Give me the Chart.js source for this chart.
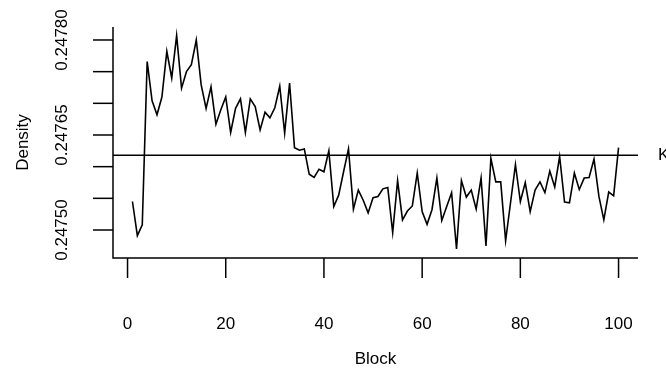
<!DOCTYPE html>
<html>
<head>
<meta charset="utf-8">
<script src="https://cdn.jsdelivr.net/npm/chart.js@4/dist/chart.umd.min.js"></script>
<style>
  html, body { margin: 0; padding: 0; background: #fff; }
  #wrap { width: 666px; height: 373px; }
</style>
</head>
<body>
<div id="wrap"><canvas id="densityChart" width="666" height="373"></canvas></div>
<script>
// Block index and estimated density per block
const blocks = [
  1, 2, 3, 4, 5, 6, 7, 8, 9, 10, 11, 12, 13, 14, 15, 16, 17, 18, 19, 20,
  21, 22, 23, 24, 25, 26, 27, 28, 29, 30, 31, 32, 33, 34, 35, 36, 37, 38, 39, 40,
  41, 42, 43, 44, 45, 46, 47, 48, 49, 50, 51, 52, 53, 54, 55, 56, 57, 58, 59, 60,
  61, 62, 63, 64, 65, 66, 67, 68, 69, 70, 71, 72, 73, 74, 75, 76, 77, 78, 79, 80,
  81, 82, 83, 84, 85, 86, 87, 88, 89, 90, 91, 92, 93, 94, 95, 96, 97, 98, 99, 100
];
const density = [
  0.247545, 0.247491, 0.247508, 0.247766, 0.247704, 0.247682, 0.247710, 0.247782, 0.247740, 0.247807,
  0.247724, 0.247750, 0.247761, 0.247800, 0.247729, 0.247692, 0.247726, 0.247667, 0.247690, 0.247710,
  0.247654, 0.247692, 0.247707, 0.247654, 0.247707, 0.247695, 0.247658, 0.247686, 0.247677, 0.247693,
  0.247727, 0.247653, 0.247732, 0.247630, 0.247626, 0.247628, 0.247588, 0.247583, 0.247596, 0.247592,
  0.247625, 0.247537, 0.247555, 0.247592, 0.247628, 0.247533, 0.247563, 0.247547, 0.247527, 0.247551,
  0.247553, 0.247565, 0.247567, 0.247496, 0.247578, 0.247516, 0.247530, 0.247538, 0.247590, 0.247529,
  0.247509, 0.247532, 0.247582, 0.247515, 0.247537, 0.247559, 0.247470, 0.247578, 0.247552, 0.247563,
  0.247533, 0.247582, 0.247475, 0.247613, 0.247576, 0.247576, 0.247483, 0.247543, 0.247603, 0.247545,
  0.247575, 0.247529, 0.247563, 0.247576, 0.247559, 0.247593, 0.247568, 0.247616, 0.247544, 0.247543,
  0.247590, 0.247564, 0.247582, 0.247583, 0.247612, 0.247553, 0.247516, 0.247560, 0.247554, 0.247630
];
// reference level K
const kLevel = 0.247618;
const kLabel = "K";

const xTicks = [0, 20, 40, 60, 80, 100];
const yTicks = [0.2475, 0.24755, 0.2476, 0.24765, 0.2477, 0.24775, 0.2478];
const yTickLabels = ["0.24750", "", "", "0.24765", "", "", "0.24780"];

const FONT = '17px "Liberation Sans", Arial, Helvetica, sans-serif';

// R-style axes: L-shaped frame, outward ticks, rotated y labels
const baseAxes = {
  id: "baseAxes",
  afterDraw(chart) {
    const { ctx, chartArea: a, scales } = chart;
    const xs = scales.x, ys = scales.y;
    ctx.save();
    ctx.strokeStyle = "#000";
    ctx.fillStyle = "#000";
    ctx.lineWidth = 1.5;
    ctx.lineCap = "butt";

    // frame
    ctx.beginPath();
    ctx.moveTo(a.left, a.top);
    ctx.lineTo(a.left, a.bottom);
    ctx.lineTo(a.right, a.bottom);
    ctx.stroke();

    // x ticks
    ctx.font = FONT;
    ctx.textAlign = "center";
    ctx.textBaseline = "middle";
    xTicks.forEach(v => {
      const px = xs.getPixelForValue(v);
      ctx.beginPath();
      ctx.moveTo(px, a.bottom);
      ctx.lineTo(px, a.bottom + 20);
      ctx.stroke();
      ctx.fillText(String(v), px, a.bottom + 66);
    });

    // y ticks
    yTicks.forEach((v, i) => {
      const py = ys.getPixelForValue(v);
      ctx.beginPath();
      ctx.moveTo(a.left - 20, py);
      ctx.lineTo(a.left, py);
      ctx.stroke();
      if (yTickLabels[i]) {
        ctx.save();
        ctx.translate(a.left - 51, py);
        ctx.rotate(-Math.PI / 2);
        ctx.fillText(yTickLabels[i], 0, 0);
        ctx.restore();
      }
    });

    // horizontal reference line
    const ky = ys.getPixelForValue(kLevel);
    ctx.beginPath();
    ctx.moveTo(a.left, ky);
    ctx.lineTo(a.right, ky);
    ctx.stroke();
    ctx.textAlign = "left";
    ctx.fillText(kLabel, a.right + 20, ky);

    // axis titles
    ctx.textAlign = "center";
    ctx.fillText("Block", (a.left + a.right) / 2, a.bottom + 101);
    ctx.save();
    ctx.translate(23, (a.top + a.bottom) / 2);
    ctx.rotate(-Math.PI / 2);
    ctx.fillText("Density", 0, 0);
    ctx.restore();

    ctx.restore();
  }
};

const points = blocks.map((b, i) => ({ x: b, y: density[i] }));

new Chart(document.getElementById("densityChart"), {
  type: "scatter",
  data: {
    datasets: [{
      data: points,
      showLine: true,
      borderColor: "#000",
      borderWidth: 1.6,
      pointRadius: 0,
      tension: 0
    }]
  },
  options: {
    responsive: false,
    animation: false,
    layout: { padding: { left: 113, right: 28, top: 27, bottom: 115 } },
    plugins: { legend: { display: false }, tooltip: { enabled: false } },
    scales: {
      x: { type: "linear", min: -2.96, max: 103.96, display: false },
      y: { type: "linear", min: 0.2474558, max: 0.2478205, display: false }
    }
  },
  plugins: [baseAxes]
});
</script>
</body>
</html>
